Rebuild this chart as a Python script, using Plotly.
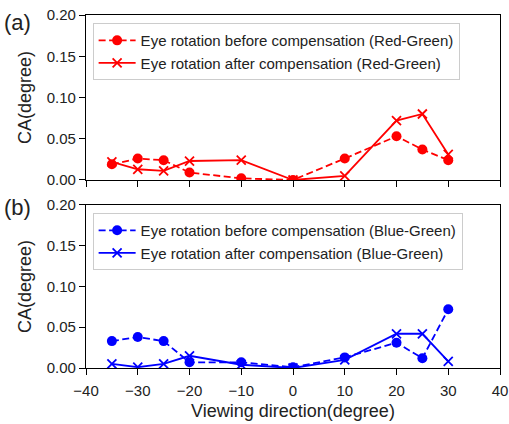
import plotly.graph_objects as go

# Viewing directions (degree)
angles = [-35, -30, -25, -20, -10, 0, 10, 20, 25, 30]

# Chromatic aberration (degree), Red-Green channel pair
rg_before = [0.019, 0.026, 0.024, 0.009, 0.002, 0.000, 0.026, 0.053, 0.037, 0.024]
rg_after = [0.022, 0.013, 0.011, 0.023, 0.024, 0.000, 0.005, 0.072, 0.080, 0.031]

# Chromatic aberration (degree), Blue-Green channel pair
bg_before = [0.033, 0.038, 0.033, 0.007, 0.007, 0.001, 0.013, 0.031, 0.012, 0.072]
bg_after = [0.005, 0.001, 0.005, 0.015, 0.004, 0.000, 0.010, 0.042, 0.042, 0.008]

x_ticks = [-40, -30, -20, -10, 0, 10, 20, 30, 40]
y_ticks = [0.00, 0.05, 0.10, 0.15, 0.20]

RED = "#ff0000"
BLUE = "#0000ff"
TEXT = "#222222"
FONT = "Liberation Sans, Arial, sans-serif"

fig = go.Figure()


def add_pair(before, after, color, label, xaxis, yaxis, legend):
    fig.add_trace(go.Scatter(
        x=angles, y=before, mode="lines+markers",
        name=f"Eye rotation before compensation ({label})",
        line=dict(color=color, width=1.8, dash="7px,3.5px"),
        marker=dict(symbol="circle", size=10, color=color),
        xaxis=xaxis, yaxis=yaxis, legend=legend,
    ))
    fig.add_trace(go.Scatter(
        x=angles, y=after, mode="lines+markers",
        name=f"Eye rotation after compensation ({label})",
        line=dict(color=color, width=1.8),
        marker=dict(symbol="x-thin", size=9, color=color,
                    line=dict(color=color, width=1.8)),
        xaxis=xaxis, yaxis=yaxis, legend=legend,
    ))


add_pair(rg_before, rg_after, RED, "Red-Green", "x", "y", "legend")
add_pair(bg_before, bg_after, BLUE, "Blue-Green", "x2", "y2", "legend2")

axis_common = dict(
    showline=True, linecolor="black", linewidth=1.3, mirror=True,
    ticks="outside", ticklen=6, tickwidth=1.3, tickcolor="black",
    showgrid=False, zeroline=False, automargin=False,
    tickfont=dict(family=FONT, size=15, color=TEXT),
)
title_font = dict(family=FONT, size=18, color=TEXT)
legend_common = dict(
    xanchor="left", yanchor="top", itemwidth=37,
    bgcolor="white", bordercolor="#cccccc", borderwidth=1,
    font=dict(family=FONT, size=15, color=TEXT),
)

fig.update_layout(
    template="none",
    width=509, height=424,
    margin=dict(l=86, r=9, t=15, b=56),
    paper_bgcolor="white", plot_bgcolor="white",
    font=dict(family=FONT, color=TEXT),
    xaxis=dict(domain=[0, 1], range=[-40, 40], tickvals=x_ticks,
               showticklabels=False, anchor="y", **axis_common),
    yaxis=dict(domain=[0.5326, 1], range=[0, 0.2], tickvals=y_ticks,
               tickformat=".2f", anchor="x",
               title=dict(text="CA(degree)", font=title_font, standoff=10),
               **axis_common),
    xaxis2=dict(domain=[0, 1], range=[-40, 40], tickvals=x_ticks,
                anchor="y2", ticklabelstandoff=3,
                title=dict(text="Viewing direction(degree)", font=title_font,
                           standoff=6),
                **axis_common),
    yaxis2=dict(domain=[0, 0.4618], range=[0, 0.2], tickvals=y_ticks,
                tickformat=".2f", anchor="x2",
                title=dict(text="CA(degree)", font=title_font, standoff=10),
                **axis_common),
    legend=dict(x=0.016, y=0.977, **legend_common),
    legend2=dict(x=0.016, y=0.439, **legend_common),
    annotations=[
        dict(text="(a)", xref="paper", yref="paper", x=-0.203, y=0.978,
             xanchor="left", yanchor="middle", showarrow=False,
             font=dict(family=FONT, size=22, color=TEXT)),
        dict(text="(b)", xref="paper", yref="paper", x=-0.203, y=0.456,
             xanchor="left", yanchor="middle", showarrow=False,
             font=dict(family=FONT, size=22, color=TEXT)),
    ],
)

fig.write_html("out.html")
